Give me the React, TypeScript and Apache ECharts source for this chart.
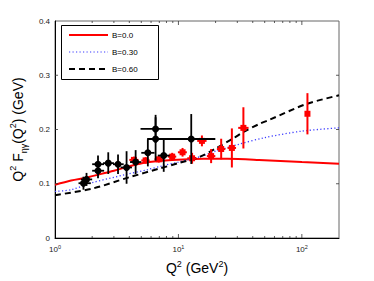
import React, { useEffect, useRef } from "react";
import * as echarts from "echarts";

const FONT = "'Liberation Sans', Arial, Helvetica, sans-serif";

// Model curves
const seriesNames = ["B=0.0", "B=0.30", "B=0.60"];
const q2B00 = [1, 1.35, 1.78, 2, 3, 4, 5.4, 7.85, 12, 16, 25, 45, 100, 200];
const fB00 = [0.098, 0.106, 0.111, 0.114, 0.124, 0.132, 0.139, 0.143, 0.145, 0.146, 0.146, 0.144, 0.14, 0.137];
const q2B30 = [1, 1.35, 2, 3.74, 5.6, 7.4, 10, 15, 20, 30, 50, 100, 200];
const fB30 = [0.086, 0.089, 0.102, 0.117, 0.126, 0.133, 0.14, 0.15, 0.16, 0.172, 0.185, 0.197, 0.203];
const q2B60 = [1, 2, 4, 7, 10, 15, 20, 28, 34, 46, 54, 109, 200];
const fB60 = [0.079, 0.091, 0.112, 0.128, 0.138, 0.15, 0.165, 0.184, 0.196, 0.211, 0.2175, 0.247, 0.263];

// Black data (with errors)
const blackQ2 = [1.7, 1.8, 2.23, 2.23, 2.7, 3.24, 3.8, 4.5, 5.65, 6.53, 6.53, 7.6, 12.7];
const blackF = [0.101, 0.108, 0.136, 0.124, 0.138, 0.136, 0.13, 0.14, 0.157, 0.201, 0.1825, 0.152, 0.1825];
const blackQ2Lo = [1.55, 1.62, 2.0, 2.0, 2.45, 2.95, 3.4, 4.05, 5.0, 4.93, 5.6, 6.8, 5.6];
const blackQ2Hi = [1.95, 2.0, 2.5, 2.5, 3.0, 3.6, 4.2, 5.0, 6.4, 8.87, 7.6, 8.5, 19.9];
const blackFErr = [0.012, 0.012, 0.016, 0.014, 0.02, 0.018, 0.03, 0.022, 0.025, 0.026, 0.04, 0.03, 0.046];

// Red data (with errors)
const redQ2 = [4.36, 5.42, 6.93, 8.9, 10.8, 12.9, 15.5, 18.4, 22.2, 27.1, 33.6, 111];
const redF = [0.144, 0.143, 0.145, 0.15, 0.158, 0.147, 0.179, 0.151, 0.164, 0.166, 0.203, 0.229];
const redFErr = [0.006, 0.006, 0.006, 0.007, 0.008, 0.01, 0.01, 0.013, 0.019, 0.036, 0.038, 0.038];
const redQ2Lo = [4.0, 5.0, 6.4, 8.2, 9.9, 11.8, 14.2, 17.0, 20.5, 25.0, 30.5, 111];
const redQ2Hi = [4.75, 5.85, 7.5, 9.6, 11.7, 14.0, 16.9, 19.9, 24.0, 29.3, 37.0, 111];

// Axis ticks
const xMinorTicks = [2, 3, 4, 5, 6, 7, 8, 9, 20, 30, 40, 50, 60, 70, 80, 90];
const xMajorTicks = [10, 100];
const yTicks = [0.1, 0.2, 0.3];

function errorRenderer(color: string, lw: number, marker: "circle" | "square", size: number) {
  return (params: any, api: any) => {
    const x = api.value(0);
    const y = api.value(1);
    const xl = api.value(2);
    const xh = api.value(3);
    const e = api.value(4);
    const p = api.coord([x, y]);
    const pl = api.coord([xl, y]);
    const ph = api.coord([xh, y]);
    const pt = api.coord([x, y + e]);
    const pb = api.coord([x, y - e]);
    const st = { stroke: color, lineWidth: lw };
    const children: any[] = [
      { type: "line", shape: { x1: pl[0], y1: p[1], x2: ph[0], y2: p[1] }, style: st },
      { type: "line", shape: { x1: p[0], y1: pt[1], x2: p[0], y2: pb[1] }, style: st },
    ];
    if (marker === "circle") {
      children.push({ type: "circle", shape: { cx: p[0], cy: p[1], r: size }, style: { fill: color } });
    } else {
      children.push({
        type: "rect",
        shape: { x: p[0] - size, y: p[1] - size, width: size * 2, height: size * 2 },
        style: { fill: color },
      });
    }
    return { type: "group", children };
  };
}

export default function App() {
  const ref = useRef<HTMLDivElement>(null);
  useEffect(() => {
    document.body.style.margin = "0";
    const chart = echarts.init(ref.current!, undefined, { renderer: "svg" });
    const zip = (a: number[], b: number[]) => a.map((v, i) => [v, b[i]]);
    const option: any = {
      animation: false,
      backgroundColor: "#fff",
      textStyle: { fontFamily: FONT },
      grid: {
        left: 54,
        top: 21,
        width: 285,
        height: 217,
        show: true,
        borderColor: "#666",
        borderWidth: 1,
        backgroundColor: "#fff",
      },
      xAxis: {
        type: "log",
        logBase: 10,
        min: 1,
        max: 200,
        name: "{m|Q}{s|2}{m| (GeV}{s|2}{m|)}",
        nameLocation: "middle",
        nameGap: 21,
        nameTextStyle: {
          fontFamily: FONT,
          rich: {
            m: { fontSize: 14, lineHeight: 18, color: "#000", fontFamily: FONT },
            s: { fontSize: 9, lineHeight: 9, verticalAlign: "top", color: "#000", fontFamily: FONT },
          },
        },
        axisLine: { show: true, lineStyle: { color: "#000", width: 1 } },
        axisTick: { show: false },
        splitLine: { show: false },
        minorTick: { show: false },
        axisLabel: {
          margin: 6,
          formatter: (v: number) => {
            const e = Math.round(Math.log10(v));
            if (Math.abs(v - Math.pow(10, e)) < 1e-6 * v) return "{b|10}{s|" + e + "}";
            return "";
          },
          rich: {
            b: { fontSize: 8, lineHeight: 10, color: "#222", fontFamily: FONT },
            s: { fontSize: 5.5, lineHeight: 6, verticalAlign: "top", color: "#222", fontFamily: FONT },
          },
        },
      },
      yAxis: {
        type: "value",
        min: 0,
        max: 0.4,
        interval: 0.1,
        name: "{m|Q}{s|2}{m| F}{b|ηγ}{m|(Q}{s|2}{m|) (GeV)}",
        nameLocation: "middle",
        nameRotate: 90,
        nameGap: 27,
        nameTextStyle: {
          fontFamily: FONT,
          rich: {
            m: { fontSize: 14, lineHeight: 20, color: "#000", fontFamily: FONT },
            s: { fontSize: 9, lineHeight: 9, verticalAlign: "top", color: "#000", fontFamily: FONT },
            b: { fontSize: 9, lineHeight: 9, verticalAlign: "bottom", color: "#000", fontFamily: FONT },
          },
        },
        axisLine: { show: true, lineStyle: { color: "#000", width: 1 } },
        axisTick: { show: false },
        splitLine: { show: false },
        axisLabel: {
          margin: 5,
          fontSize: 8,
          color: "#222",
          fontFamily: FONT,
          formatter: (v: number) => (v === 0 ? "0" : v.toFixed(1)),
        },
      },
      graphic: [
        {
          type: "rect",
          z: 100,
          shape: { x: 61.5, y: 25.5, width: 97, height: 54 },
          style: { fill: "#fff", stroke: "#000", lineWidth: 1 },
        },
        {
          type: "line",
          z: 101,
          shape: { x1: 69, y1: 35, x2: 108, y2: 35 },
          style: { stroke: "#ff0000", lineWidth: 2 },
        },
        {
          type: "line",
          z: 101,
          shape: { x1: 69, y1: 52, x2: 108, y2: 52 },
          style: { stroke: "#3a3aff", lineWidth: 1.2, lineDash: [1.2, 2.3] },
        },
        {
          type: "line",
          z: 101,
          shape: { x1: 69, y1: 69, x2: 108, y2: 69 },
          style: { stroke: "#000", lineWidth: 2, lineDash: [6, 4] },
        },
        ...seriesNames.map((n, i) => ({
          type: "text",
          z: 101,
          x: 112,
          y: 35 + i * 17,
          style: { text: n, fontSize: 8, fontFamily: FONT, fill: "#000", verticalAlign: "middle", align: "left" },
        })),
      ],
      series: [
        {
          name: seriesNames[0],
          type: "line",
          data: zip(q2B00, fB00),
          smooth: 0.3,
          showSymbol: false,
          symbol: "none",
          lineStyle: { color: "#ff0000", width: 2 },
          z: 2,
        },
        {
          name: seriesNames[1],
          type: "line",
          data: zip(q2B30, fB30),
          smooth: 0.3,
          showSymbol: false,
          symbol: "none",
          lineStyle: { color: "#3a3aff", width: 1.3, type: [1.2, 2.3] },
          z: 2,
        },
        {
          name: seriesNames[2],
          type: "line",
          data: zip(q2B60, fB60),
          smooth: 0.3,
          showSymbol: false,
          symbol: "none",
          lineStyle: { color: "#000", width: 2, type: [6, 4] },
          z: 2,
        },
        {
          type: "custom",
          z: 3,
          silent: true,
          renderItem: errorRenderer("#ff0000", 2, "square", 3),
          encode: { x: 0, y: 1 },
          data: redQ2.map((q, i) => [q, redF[i], redQ2Lo[i], redQ2Hi[i], redFErr[i]]),
        },
        {
          type: "custom",
          z: 4,
          silent: true,
          renderItem: errorRenderer("#000", 1.8, "circle", 3.5),
          encode: { x: 0, y: 1 },
          data: blackQ2.map((q, i) => [q, blackF[i], blackQ2Lo[i], blackQ2Hi[i], blackFErr[i]]),
        },
        {
          type: "custom",
          z: 5,
          silent: true,
          encode: { x: 0, y: 1 },
          data: [
            ...xMinorTicks.map((v) => [v, 0.2, 2]),
            ...xMajorTicks.map((v) => [v, 0.2, 4]),
          ],
          renderItem: (params: any, api: any) => {
            const v = api.value(0);
            const len = api.value(2);
            const b = api.coord([v, 0]);
            const t = api.coord([v, 0.4]);
            const st = { stroke: "#333", lineWidth: 0.8 };
            return {
              type: "group",
              children: [
                { type: "line", shape: { x1: b[0], y1: b[1], x2: b[0], y2: b[1] - len }, style: st },
                { type: "line", shape: { x1: t[0], y1: t[1], x2: t[0], y2: t[1] + len }, style: st },
              ],
            };
          },
        },
        {
          type: "custom",
          z: 5,
          silent: true,
          encode: { x: 0, y: 1 },
          data: yTicks.map((v) => [1, v]),
          renderItem: (params: any, api: any) => {
            const v = api.value(1);
            const l = api.coord([1, v]);
            const r = api.coord([200, v]);
            const st = { stroke: "#333", lineWidth: 0.8 };
            return {
              type: "group",
              children: [
                { type: "line", shape: { x1: l[0], y1: l[1], x2: l[0] + 3, y2: l[1] }, style: st },
                { type: "line", shape: { x1: r[0], y1: r[1], x2: r[0] - 3, y2: r[1] }, style: st },
              ],
            };
          },
        },
      ],
    };
    chart.setOption(option);
    return () => chart.dispose();
  }, []);
  return <div ref={ref} style={{ width: 374, height: 281 }} />;
}
